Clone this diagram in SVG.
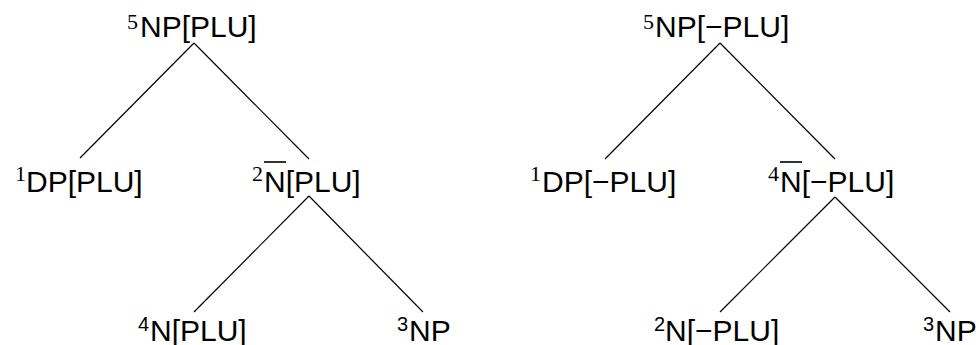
<svg xmlns="http://www.w3.org/2000/svg" width="979" height="345" viewBox="0 0 979 345">
<style>
.m{font-family:"Liberation Sans",Arial,sans-serif;font-size:30px;fill:#000}
.s{font-family:"Liberation Serif","Times New Roman",serif;font-size:22px;fill:#000}
.ss{font-family:"Liberation Sans",Arial,sans-serif;font-size:20px;fill:#000}
.e{stroke:#000;stroke-width:1.2;fill:none}
.ov{stroke:#000;stroke-width:1.6}
</style>
<rect width="979" height="345" fill="#fff"/>
<g id="connectors">
<line class="e" x1="194" y1="43" x2="80" y2="158"/>
<line class="e" x1="194" y1="43" x2="309" y2="159"/>
<line class="e" x1="309" y1="196" x2="194" y2="312"/>
<line class="e" x1="309" y1="196" x2="423" y2="312"/>
<line class="e" x1="720" y1="43" x2="605" y2="159"/>
<line class="e" x1="720" y1="43" x2="835" y2="159"/>
<line class="e" x1="835" y1="197" x2="720" y2="312"/>
<line class="e" x1="835" y1="197" x2="950" y2="312"/>
</g>
<g id="L-NP5"><text class="s" x="127" y="29">5</text><text class="m" x="140" y="37">NP[PLU]</text></g>
<g id="L-DP1"><text class="s" x="15" y="181">1</text><text class="m" x="26" y="192">DP[PLU]</text></g>
<g id="L-Nbar2"><text class="s" x="252" y="181">2</text><text class="m" x="264" y="192">N[PLU]</text><line class="ov" x1="264" y1="162" x2="286" y2="162"/></g>
<g id="L-N4"><text class="ss" x="138" y="331">4</text><text class="m" x="150" y="341">N[PLU]</text></g>
<g id="L-NP3"><text class="ss" x="397" y="331">3</text><text class="m" x="409" y="341">NP</text></g>
<g id="R-NP5"><text class="s" x="643" y="29">5</text><text class="m" x="655" y="37">NP[−PLU]</text></g>
<g id="R-DP1"><text class="s" x="530" y="181">1</text><text class="m" x="542" y="192">DP[−PLU]</text></g>
<g id="R-Nbar4"><text class="s" x="768" y="181">4</text><text class="m" x="780" y="192">N[−PLU]</text><line class="ov" x1="780" y1="162" x2="802" y2="162"/></g>
<g id="R-N2"><text class="ss" x="654" y="331">2</text><text class="m" x="665" y="341">N[−PLU]</text></g>
<g id="R-NP3"><text class="ss" x="923" y="331">3</text><text class="m" x="935" y="341">NP</text></g>
</svg>
